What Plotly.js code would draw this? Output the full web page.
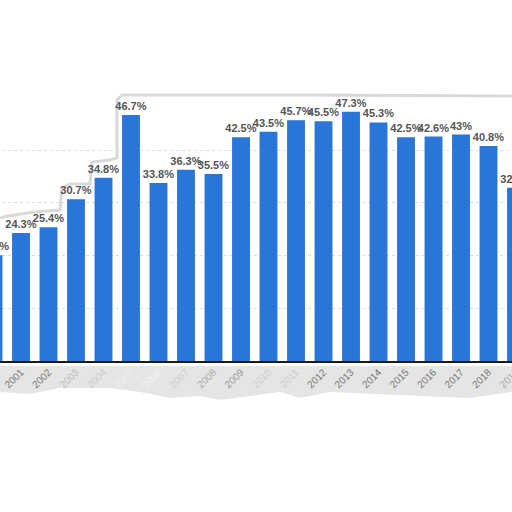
<!DOCTYPE html>
<html>
<head>
<meta charset="utf-8">
<script src="https://cdn.plot.ly/plotly-3.0.1.min.js"></script>
<style>html,body{margin:0;padding:0;background:#fff;overflow:hidden;}#chart{position:absolute;left:-34px;top:0;width:580px;height:512px;}</style>
</head>
<body>
<div id="chart"></div>
<script>
// Data
var years = [2000, 2001, 2002, 2003, 2004, 2005, 2006, 2007, 2008, 2009,
             2010, 2011, 2012, 2013, 2014, 2015, 2016, 2017, 2018, 2019];
var values = [20.1, 24.3, 25.4, 30.7, 34.8, 46.7, 33.8, 36.3, 35.5, 42.5,
              43.5, 45.7, 45.5, 47.3, 45.3, 42.5, 42.6, 43, 40.8, 32.9];
var yearLabels = ['2000', '2001', '2002', '2003', '2004', '2005', '2006', '2007', '2008', '2009',
                  '2010', '2011', '2012', '2013', '2014', '2015', '2016', '2017', '2018', '2019'];
var gridValues = [10, 20, 30, 40];

// styling: faded tick labels (torn/blurred paper look)
var fade = {2003: '#bbb', 2004: '#ccc', 2005: '#eee', 2006: '#f4f4f4', 2007: '#ccc', 2008: '#aaa',
            2009: '#999', 2010: '#ccc', 2011: '#ccc', 2019: '#aaa'};
var tickText = yearLabels.map(function (t, i) {
  var c = fade[years[i]];
  return c ? '<span style="color:' + c + '">' + t + '</span>' : t;
});

var OFF = 34, W = 580, H = 512, mt = 95, mb = 151;
var plotH = H - mt - mb;
function px(x, y) { return [((x + OFF) / W), (H - mb - y) / plotH]; }
function pathFrom(pts, close) {
  return pts.map(function (p, i) { var q = px(p[0], p[1]); return (i ? 'L' : 'M') + q[0].toFixed(4) + ',' + q[1].toFixed(4); }).join(' ') + (close ? ' Z' : '');
}
var topEdge = [[0, 218], [8, 216], [35, 212], [60, 210], [62, 188], [70, 184], [90, 184], [92, 162], [110, 160], [117, 158], [117, 100], [122, 95], [300, 95], [512, 96]];
var bottomBand = [[0, 366], [512, 366], [512, 392], [470, 398], [420, 396], [330, 392], [300, 398], [280, 392], [250, 396], [220, 400], [200, 396], [170, 398], [140, 392], [110, 388], [60, 388], [30, 394], [0, 392]];

var trace = {
  type: 'bar',
  x: years,
  y: values,
  width: 0.65,
  marker: { color: '#2a75d8' },
  text: values.map(function (v) { return v + '%'; }),
  textposition: 'outside',
  constraintext: 'none',
  cliponaxis: false,
  textfont: { family: 'Liberation Sans, Arial, sans-serif', size: 11, color: '#555', weight: 'bold' },
  hoverinfo: 'skip'
};

var layout = {
  width: W, height: H,
  margin: { l: 0, r: 0, t: mt, b: mb, pad: 0 },
  paper_bgcolor: '#fff', plot_bgcolor: '#fff',
  showlegend: false,
  xaxis: {
    range: [1999.0, 2020.09],
    tickvals: years, ticktext: tickText,
    tickangle: -45,
    tickfont: { family: 'Liberation Sans, Arial, sans-serif', size: 10, color: '#777' },
    showgrid: false, zeroline: false,
    showline: true, linecolor: '#1a1a1a', linewidth: 1.5,
    ticks: '', fixedrange: true
  },
  yaxis: {
    range: [0, 50.5],
    tickvals: gridValues,
    showticklabels: false,
    showgrid: true, gridcolor: '#dcdcdc', griddash: 'dot', gridwidth: 1,
    zeroline: false, showline: false, ticks: '', fixedrange: true
  },
  shapes: [
    { type: 'path', xref: 'paper', yref: 'paper', path: pathFrom(bottomBand, true),
      fillcolor: 'rgba(0,0,0,0.10)', line: { width: 0 }, layer: 'below' },
    { type: 'path', xref: 'paper', yref: 'paper', path: pathFrom(topEdge, false),
      line: { color: 'rgba(0,0,0,0.15)', width: 3 }, layer: 'below' }
  ]
};

Plotly.newPlot('chart', [trace], layout, { staticPlot: true, displayModeBar: false });
</script>
</body>
</html>
